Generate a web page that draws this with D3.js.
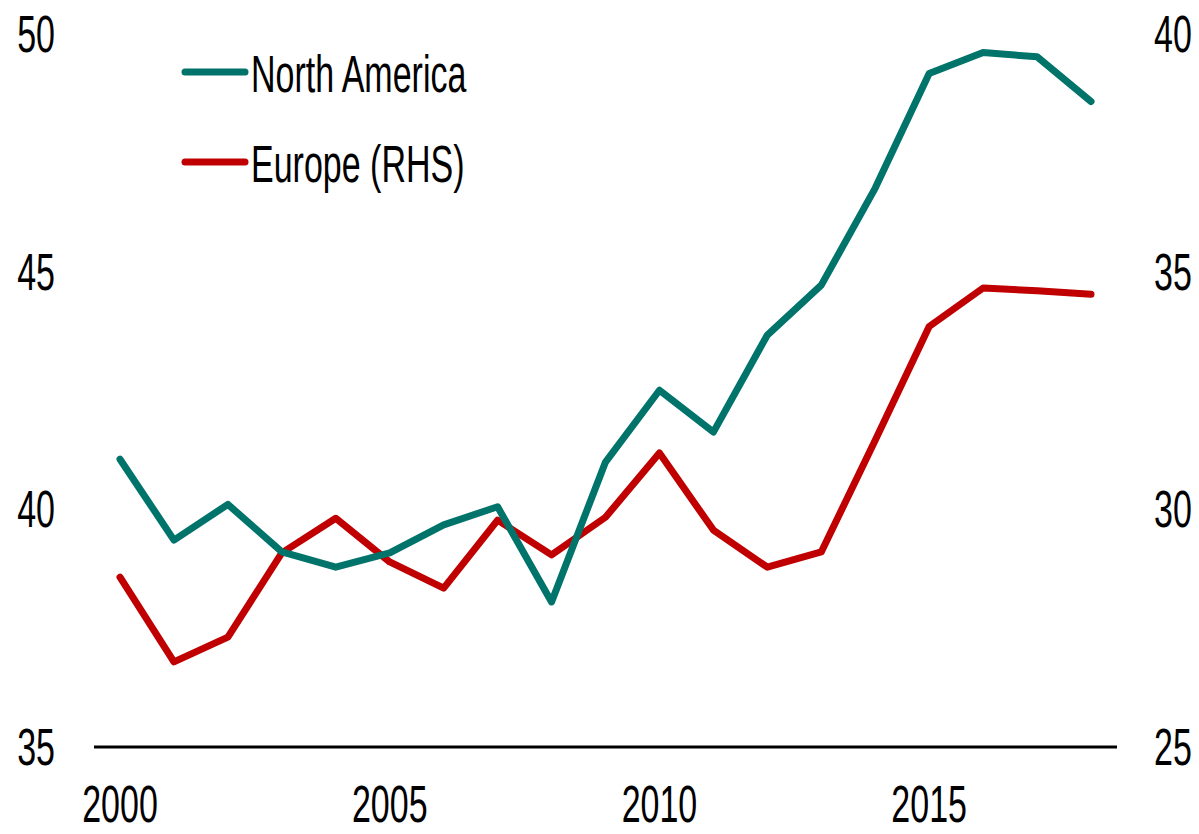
<!DOCTYPE html>
<html>
<head>
<meta charset="utf-8">
<script src="https://cdn.jsdelivr.net/npm/d3@7"></script>
<style>
  html, body { margin: 0; padding: 0; background: #fff; }
  svg { display: block; }
  text { font-family: "Liberation Sans", Arial, sans-serif; fill: #000; }
</style>
</head>
<body>
<svg id="chart" width="1199" height="834"></svg>
<script>
const years = [2000,2001,2002,2003,2004,2005,2006,2007,2008,2009,2010,2011,2012,2013,2014,2015,2016,2017,2018];
const northAmerica = [41.05,39.35,40.1,39.1,38.78,39.08,39.67,40.05,38.05,40.99,42.5,41.62,43.66,44.71,46.75,49.16,49.6,49.51,48.57];
const europeRHS = [28.57,26.79,27.31,29.08,29.81,28.89,28.34,29.77,29.04,29.83,31.18,29.56,28.78,29.1,31.45,33.84,34.65,34.59,34.52];
const leftTicks = [35,40,45,50];
const rightTicks = [25,30,35,40];
const xTicks = [2000,2005,2010,2015];
const seriesNames = ["North America","Europe (RHS)"];
const seriesColors = ["#00736B","#C00000"];

const svg = d3.select("#chart");
const fontSize = 34, vScale = 1.52;

const x = d3.scaleLinear().domain([2000, 2018]).range([120, 1091]);
const yL = d3.scaleLinear().domain([35, 50]).range([747, 33.5]);
const yR = d3.scaleLinear().domain([25, 40]).range([747, 33.5]);

function stretchedText(g, str, px, py, anchor) {
  g.append("text")
    .attr("transform", `translate(${px},${py}) scale(1,${vScale})`)
    .attr("text-anchor", anchor)
    .attr("dominant-baseline", "central")
    .style("font-size", fontSize + "px")
    .text(str);
}

// baseline
svg.append("line")
  .attr("x1", 94).attr("x2", 1117)
  .attr("y1", yL(35)).attr("y2", yL(35))
  .attr("stroke", "#000").attr("stroke-width", 3);

const gl = svg.append("g");
leftTicks.forEach(t => stretchedText(gl, d3.format("d")(t), 55, yL(t), "end"));
const gr = svg.append("g");
rightTicks.forEach(t => stretchedText(gr, d3.format("d")(t), 1154, yR(t), "start"));
const gx = svg.append("g");
xTicks.forEach(t => stretchedText(gx, String(t), x(t), 804, "middle"));

const lineL = d3.line().x((d,i) => x(years[i])).y(d => yL(d));
const lineR = d3.line().x((d,i) => x(years[i])).y(d => yR(d));

svg.append("path").datum(europeRHS)
  .attr("d", lineR).attr("fill", "none")
  .attr("stroke", seriesColors[1]).attr("stroke-width", 7)
  .attr("stroke-linejoin", "round").attr("stroke-linecap", "round");

svg.append("path").datum(northAmerica)
  .attr("d", lineL).attr("fill", "none")
  .attr("stroke", seriesColors[0]).attr("stroke-width", 7)
  .attr("stroke-linejoin", "round").attr("stroke-linecap", "round");

const legY = [72, 162];
const leg = svg.append("g");
seriesNames.forEach((name, i) => {
  leg.append("line")
    .attr("x1", 185).attr("x2", 245)
    .attr("y1", legY[i]).attr("y2", legY[i])
    .attr("stroke", seriesColors[i]).attr("stroke-width", 7)
    .attr("stroke-linecap", "round");
  stretchedText(leg, name, 251, legY[i] + 2, "start");
});
</script>
</body>
</html>
